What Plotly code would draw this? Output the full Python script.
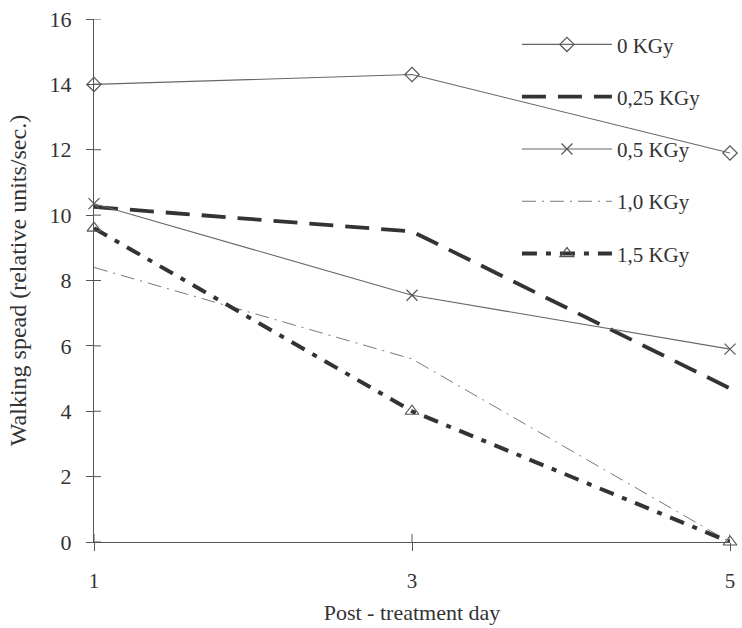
import plotly.graph_objects as go

days = [1, 3, 5]
series_names = ["0 KGy", "0,25 KGy", "0,5 KGy", "1,0 KGy", "1,5 KGy"]
v_0 = [14.0, 14.3, 11.9]
v_025 = [10.25, 9.5, 4.7]
v_05 = [10.35, 7.55, 5.9]
v_10 = [8.4, 5.6, 0.0]
v_15 = [9.6, 4.0, 0.0]
y_ticks = [0, 2, 4, 6, 8, 10, 12, 14, 16]
x_ticks = [1, 3, 5]

styles = [
    dict(line=dict(color="#666", width=1.1), marker=dict(symbol="diamond-open", size=11, color="#555", line=dict(width=1.2)), mode="lines+markers"),
    dict(line=dict(color="#333", width=3.8, dash="24px,12px"), mode="lines"),
    dict(line=dict(color="#666", width=1.1), marker=dict(symbol="x-thin-open", size=11, color="#555", line=dict(width=1.2)), mode="lines+markers"),
    dict(line=dict(color="#777", width=1.0, dash="14px,6px,2px,6px"), mode="lines"),
    dict(line=dict(color="#333", width=4.0, dash="15px,9px,5px,9px"), marker=dict(symbol="triangle-up-open", size=12, color="#555", line=dict(width=1.2)), mode="lines+markers"),
]
values = [v_0, v_025, v_05, v_10, v_15]

fig = go.Figure()
for i, (name, vals, st) in enumerate(zip(series_names, values, styles)):
    fig.add_trace(go.Scatter(x=days, y=vals, name=name, legendgroup=f"g{i}",
                             cliponaxis=False, **st))

font_fam = "Liberation Serif, Times New Roman, serif"
fig.update_layout(
    width=742, height=628,
    margin=dict(l=94, r=7, t=19, b=86),
    paper_bgcolor="white", plot_bgcolor="white",
    font=dict(family=font_fam, color="#333"),
    showlegend=True,
    legend=dict(x=0.665, y=0.99, xanchor="left", yanchor="top",
                font=dict(size=21, family=font_fam, color="#333"),
                itemwidth=90, tracegroupgap=22, bgcolor="rgba(0,0,0,0)"),
    xaxis=dict(range=[1, 5], tickvals=x_ticks, ticktext=[str(t) for t in x_ticks],
               showgrid=False, zeroline=False, showline=True, linecolor="#555", linewidth=1,
               ticks="outside", ticklen=8, tickcolor="#555", ticklabelstandoff=12,
               tickfont=dict(size=21, family=font_fam, color="#333"),
               title=dict(text="Post - treatment day", font=dict(size=22, family=font_fam, color="#333"), standoff=12)),
    yaxis=dict(range=[0, 16], tickvals=y_ticks,
               showgrid=False, zeroline=False, showline=True, linecolor="#555", linewidth=1,
               ticks="outside", ticklen=7, tickcolor="#555", ticklabelstandoff=10,
               tickfont=dict(size=22, family=font_fam, color="#333"),
               title=dict(text="Walking spead (relative units/sec.)", font=dict(size=24, family=font_fam, color="#333"), standoff=16)),
)

shapes = []
for yv in y_ticks:
    shapes.append(dict(type="line", xref="x", yref="y", xsizemode="pixel", xanchor=1,
                       x0=0, x1=7, y0=yv, y1=yv, line=dict(color="#555", width=1)))
for xv in x_ticks:
    shapes.append(dict(type="line", xref="x", yref="y", ysizemode="pixel", yanchor=0,
                       x0=xv, x1=xv, y0=0, y1=8, line=dict(color="#555", width=1)))
fig.update_layout(shapes=shapes)

fig.write_html("out.html")
